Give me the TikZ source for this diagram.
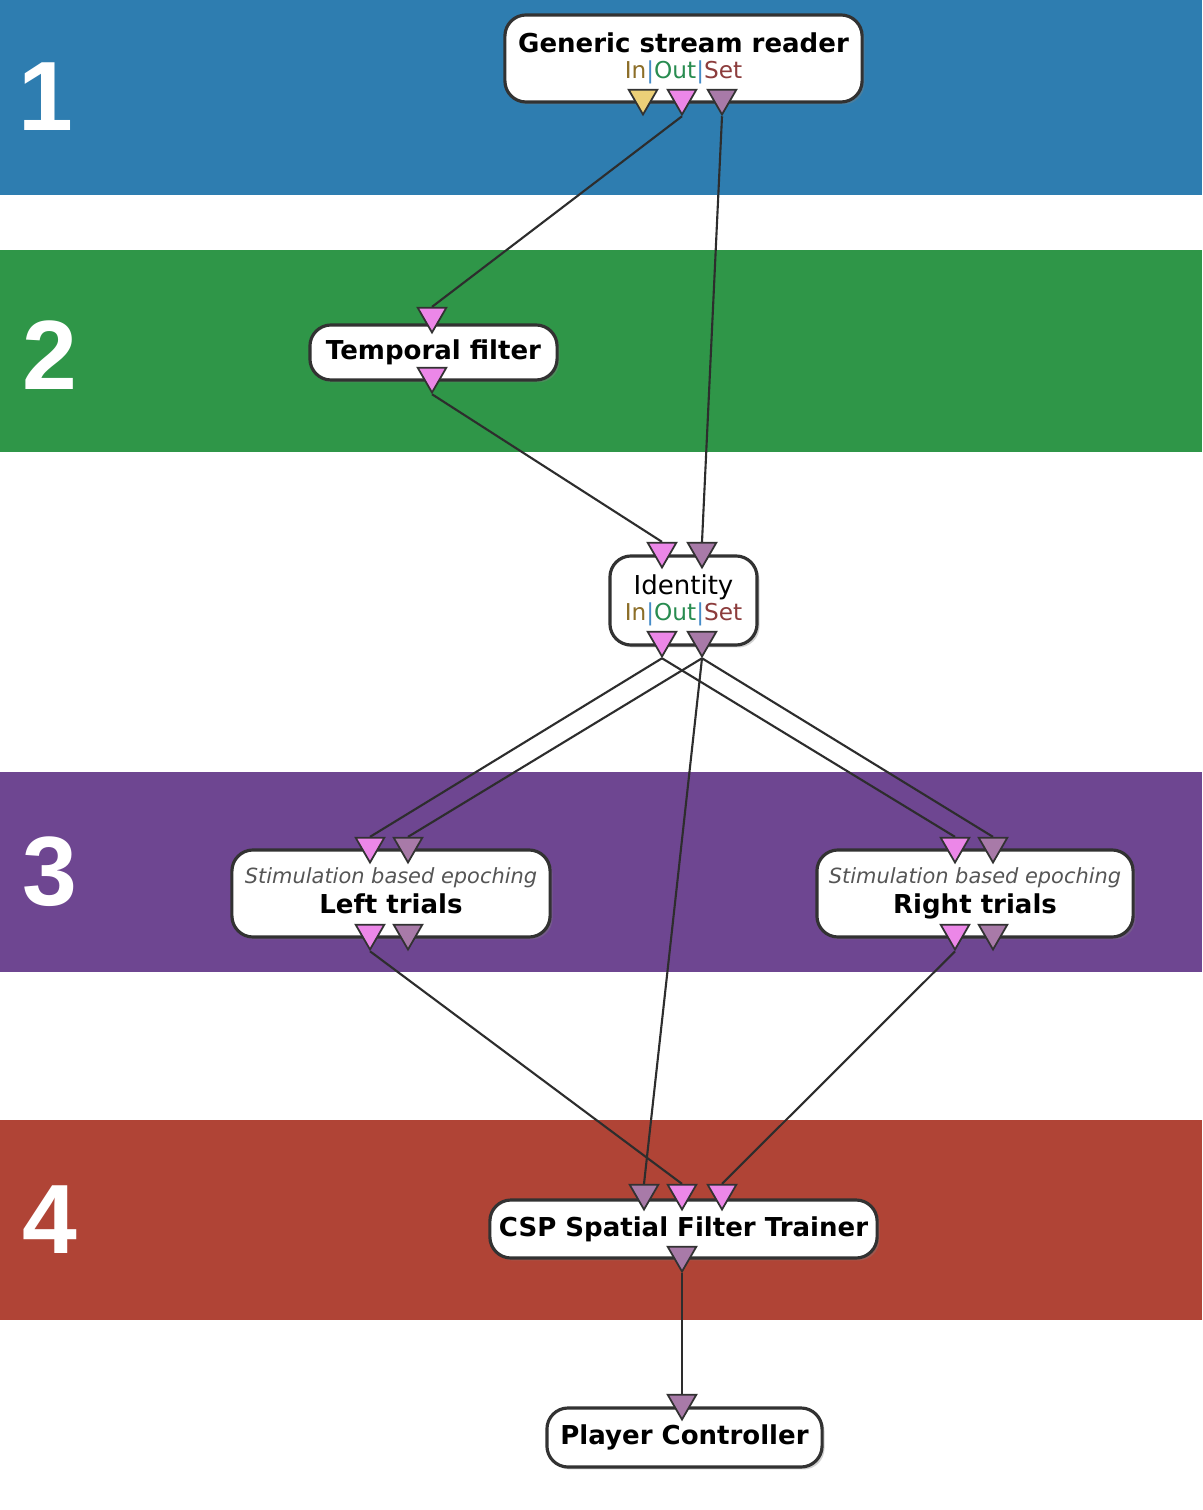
\documentclass[tikz,border=0pt]{standalone}
\usepackage{fontspec}
\setmainfont{DejaVu Sans}
\newfontfamily\numfont{Liberation Sans}
\usepackage{tikz}
\usetikzlibrary{shapes.geometric,shadows}

\definecolor{bandBlue}{RGB}{46,125,176}
\definecolor{bandGreen}{RGB}{47,150,72}
\definecolor{bandPurple}{RGB}{110,70,145}
\definecolor{bandRed}{RGB}{176,68,54}
\definecolor{plugPink}{RGB}{236,135,232}
\definecolor{plugMauve}{RGB}{168,122,168}
\definecolor{plugYellow}{RGB}{236,208,120}
\definecolor{boxBorder}{RGB}{50,50,50}
\definecolor{wireGray}{RGB}{45,45,45}
\definecolor{inCol}{RGB}{140,110,40}
\definecolor{sepCol}{RGB}{70,140,200}
\definecolor{outCol}{RGB}{40,140,80}
\definecolor{setCol}{RGB}{140,60,60}
\definecolor{subGray}{RGB}{85,85,85}

\pgfdeclarelayer{bands}
\pgfdeclarelayer{wires}
\pgfsetlayers{bands,wires,main}

\newcommand{\ioset}{{\mdseries\fontsize{6.6}{8}\selectfont\color{inCol}In\color{sepCol}|\color{outCol}Out\color{sepCol}|\color{setCol}Set}}
\newcommand{\subtitle}[1]{{\mdseries\itshape\fontsize{5.95}{8}\selectfont\color{subGray}#1}}

\tikzset{
  box/.style={draw=boxBorder, line width=0.9pt, fill=white, rounded corners=6pt,
    inner sep=0pt, align=center, font=\bfseries\fontsize{7.4}{8.4}\selectfont,
    drop shadow={shadow xshift=0.7pt, shadow yshift=-0.7pt, opacity=0.35}},
  plug/.style={regular polygon, regular polygon sides=3, shape border rotate=180,
    draw=boxBorder, line width=0.5pt, minimum size=0.33cm, inner sep=0pt},
  wire/.style={draw=wireGray, line width=0.6pt},
  bandnum/.style={text=white, font=\numfont\bfseries\fontsize{28}{28}\selectfont}
}

\begin{document}
\begin{tikzpicture}[x=0.01cm,y=-0.01cm]
\useasboundingbox (0,0) rectangle (1202,1510);

\begin{pgfonlayer}{bands}
\fill[white] (0,0) rectangle (1202,1510);
\fill[bandBlue] (0,0) rectangle (1202,195);
\fill[bandGreen] (0,250) rectangle (1202,452);
\fill[bandPurple] (0,772) rectangle (1202,972);
\fill[bandRed] (0,1120) rectangle (1202,1320);
\end{pgfonlayer}

\node[bandnum] (num1) at (46,97) {1};
\node[bandnum] (num2) at (50,355) {2};
\node[bandnum] (num3) at (50,872) {3};
\node[bandnum] (num4) at (50,1220) {4};

% boxes
\node[box, minimum width=3.57cm, minimum height=0.87cm] (reader) at (683.5,58.5)
  {Generic stream reader\\[-1pt]\ioset};
\node[box, minimum width=2.47cm, minimum height=0.55cm] (temporal) at (433.5,352.5)
  {Temporal filter};
\node[box, minimum width=1.47cm, minimum height=0.89cm] (identity) at (683.5,600.5)
  {\mdseries Identity\\[-1pt]\ioset};
\node[box, minimum width=3.18cm, minimum height=0.87cm] (left) at (391,893.5)
  {\subtitle{Stimulation based epoching}\\[0pt]Left trials\vphantom{g}};
\node[box, minimum width=3.16cm, minimum height=0.87cm] (right) at (975,893.5)
  {\subtitle{Stimulation based epoching}\\[0pt]Right trials};
\node[box, minimum width=3.87cm, minimum height=0.58cm] (csp) at (683.5,1229)
  {CSP Spatial Filter Trainer};
\node[box, minimum width=2.75cm, minimum height=0.59cm] (player) at (684.5,1437.5)
  {Player Controller};

% plugs
\node[plug, fill=plugYellow] (readerIn) at (643,98) {};
\node[plug, fill=plugPink] (readerOut) at (682,98) {};
\node[plug, fill=plugMauve] (readerSet) at (722,98) {};
\node[plug, fill=plugPink] (temporalIn) at (432,316) {};
\node[plug, fill=plugPink] (temporalOut) at (432,376) {};
\node[plug, fill=plugPink] (identityIn) at (662,551) {};
\node[plug, fill=plugMauve] (identitySetIn) at (702,551) {};
\node[plug, fill=plugPink] (identityOut) at (662,640) {};
\node[plug, fill=plugMauve] (identitySet) at (702,640) {};
\node[plug, fill=plugPink] (leftIn) at (370,846) {};
\node[plug, fill=plugMauve] (leftSetIn) at (408,846) {};
\node[plug, fill=plugPink] (leftOut) at (370,933) {};
\node[plug, fill=plugMauve] (leftSet) at (408,933) {};
\node[plug, fill=plugPink] (rightIn) at (955,846) {};
\node[plug, fill=plugMauve] (rightSetIn) at (993,846) {};
\node[plug, fill=plugPink] (rightOut) at (955,933) {};
\node[plug, fill=plugMauve] (rightSet) at (993,933) {};
\node[plug, fill=plugMauve] (cspSetIn) at (644,1193) {};
\node[plug, fill=plugPink] (cspLeftIn) at (682,1193) {};
\node[plug, fill=plugPink] (cspRightIn) at (722,1193) {};
\node[plug, fill=plugMauve] (cspOut) at (682,1255) {};
\node[plug, fill=plugMauve] (playerIn) at (682,1403) {};

\begin{pgfonlayer}{wires}
\draw[wire] (readerOut.south) -- (temporalIn.north);
\draw[wire] (readerSet.south) -- (identitySetIn.north);
\draw[wire] (temporalOut.south) -- (identityIn.north);
\draw[wire] (identityOut.south) -- (leftIn.north);
\draw[wire] (identityOut.south) -- (rightIn.north);
\draw[wire] (identitySet.south) -- (leftSetIn.north);
\draw[wire] (identitySet.south) -- (rightSetIn.north);
\draw[wire] (identitySet.south) -- (cspSetIn.north);
\draw[wire] (leftOut.south) -- (cspLeftIn.north);
\draw[wire] (rightOut.south) -- (cspRightIn.north);
\draw[wire] (cspOut.south) -- (playerIn.north);
\end{pgfonlayer}
\end{tikzpicture}
\end{document}
